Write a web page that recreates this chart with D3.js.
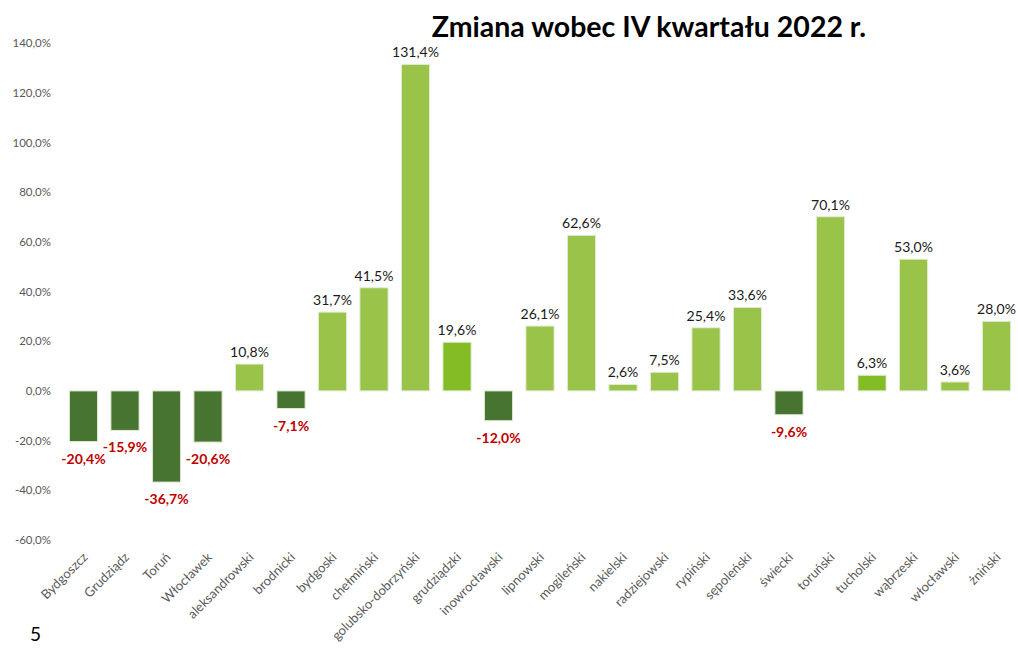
<!DOCTYPE html>
<html>
<head>
<meta charset="utf-8">
<script src="https://cdn.jsdelivr.net/npm/d3@7"></script>
<style>
    body { margin: 0; background: #ffffff; }
    svg { display: block; font-family: Lato, "Open Sans", sans-serif; }
</style>
</head>
<body>
<svg id="chart" width="1018" height="651"></svg>
<script>
const districts = [
    "Bydgoszcz", "Grudziądz", "Toruń", "Włocławek", "aleksandrowski", "brodnicki",
    "bydgoski", "chełmiński", "golubsko-dobrzyński", "grudziądzki", "inowrocławski",
    "lipnowski", "mogileński", "nakielski", "radziejowski", "rypiński", "sępoleński",
    "świecki", "toruński", "tucholski", "wąbrzeski", "włocławski", "żniński"
];

const changePct = [
    -20.4, -15.9, -36.7, -20.6, 10.8, -7.1,
    31.7, 41.5, 131.4, 19.6, -12.0,
    26.1, 62.6, 2.6, 7.5, 25.4, 33.6,
    -9.6, 70.1, 6.3, 53.0, 3.6, 28.0
];

// the two highlighted bars use a brighter green in the original
const highlighted = ["grudziądzki", "tucholski"];

const yTicks = [-60, -40, -20, 0, 20, 40, 60, 80, 100, 120, 140];

const chartTitle = "Zmiana wobec IV kwartału 2022 r.";
const pageNumber = "5";

const paint = { negative: "#477430", positive: "#9ac34a", bright: "#84bc25" };

const svg = d3.select("#chart");
// polish decimal comma, plain hyphen for negatives
const pctFmt = v => d3.format(".1f")(v).replace("−", "-").replace(".", ",") + "%";

const x = d3.scaleBand()
    .domain(districts)
    .range([62.75, 1017.25])
    .paddingInner(0.32)
    .paddingOuter(0.16);

const y = d3.scaleLinear()
    .domain([-60, 140])
    .range([540, 43]);

const rows = districts.map((name, i) => ({ name, value: changePct[i] }));

// y axis labels only, no line or gridlines
svg.append("g")
    .attr("transform", "translate(51,0)")
    .call(d3.axisLeft(y).tickValues(yTicks).tickSize(0).tickPadding(0).tickFormat(pctFmt))
    .call(g => g.select(".domain").remove())
    .call(g => g.selectAll("text")
        .attr("fill", "#595959")
        .attr("font-size", 11.5)
        .attr("font-family", "Lato, sans-serif"));

svg.append("g")
    .selectAll("rect")
    .data(rows)
    .join("rect")
    .attr("x", d => x(d.name))
    .attr("width", x.bandwidth())
    .attr("y", d => y(Math.max(0, d.value)))
    .attr("height", d => Math.abs(y(d.value) - y(0)))
    .attr("fill", d => d.value < 0 ? paint.negative
        : highlighted.includes(d.name) ? paint.bright : paint.positive)
    .attr("stroke", "#e4ecd9")
    .attr("stroke-width", 1);

svg.append("g")
    .selectAll("text")
    .data(rows)
    .join("text")
    .attr("x", d => x(d.name) + x.bandwidth() / 2)
    .attr("y", d => d.value < 0 ? y(d.value) + 22 : y(d.value) - 7)
    .attr("text-anchor", "middle")
    .attr("font-size", 14)
    .attr("font-weight", d => d.value < 0 ? "bold" : "normal")
    .attr("fill", d => d.value < 0 ? "#c00000" : "#1a1a1a")
    .text(d => pctFmt(d.value));

svg.append("g")
    .selectAll("text")
    .data(districts)
    .join("text")
    .attr("transform", d => `translate(${x(d) + x.bandwidth() / 2 + 5},558) rotate(-45)`)
    .attr("text-anchor", "end")
    .attr("font-size", 13)
    .attr("fill", "#595959")
    .text(d => d);

svg.append("text")
    .attr("x", 649)
    .attr("y", 37)
    .attr("text-anchor", "middle")
    .attr("font-size", 28.5)
    .attr("font-weight", "bold")
    .attr("fill", "#000000")
    .text(chartTitle);

svg.append("text")
    .attr("x", 30)
    .attr("y", 641)
    .attr("font-size", 19)
    .attr("fill", "#000000")
    .text(pageNumber);
</script>
</body>
</html>
